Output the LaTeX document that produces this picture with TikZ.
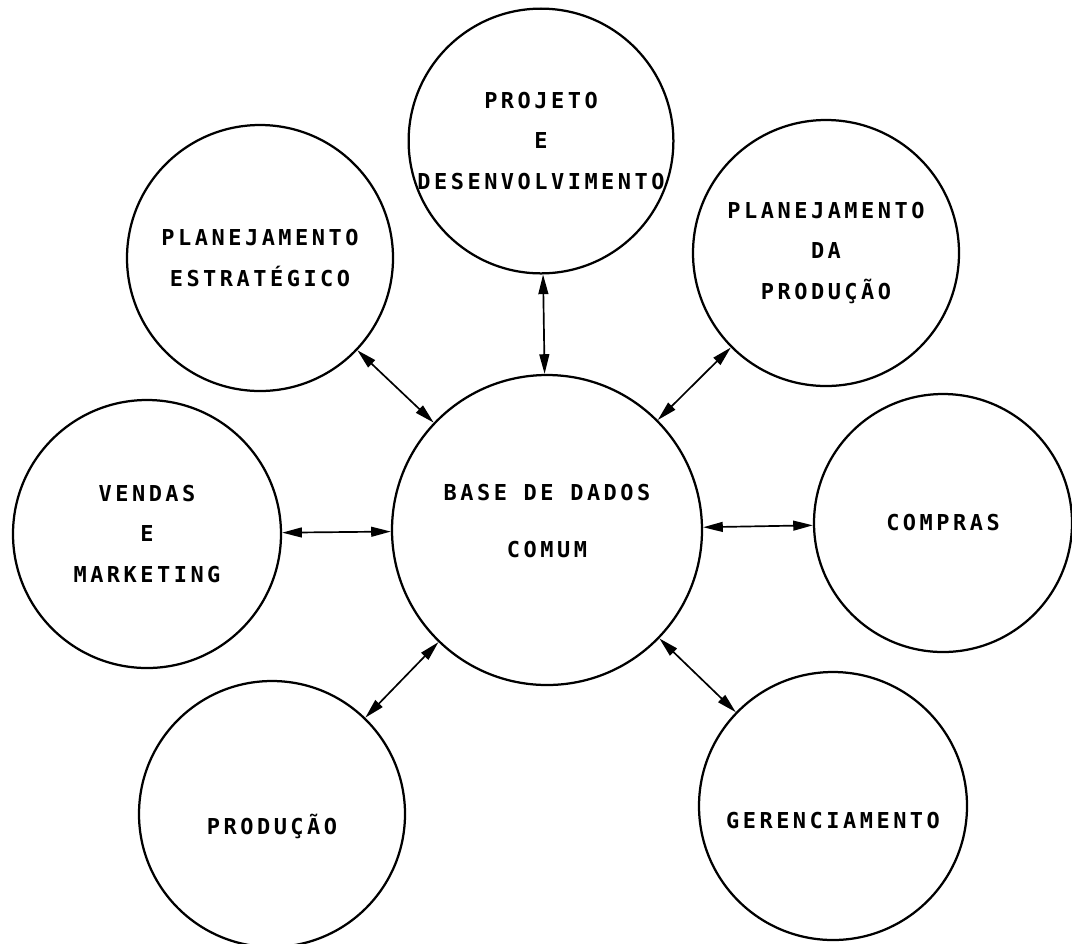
\documentclass[tikz,border=0pt]{standalone}
\usepackage{fontspec}
\usetikzlibrary{arrows.meta}
\newfontfamily\typefont[LetterSpace=16]{DejaVu Sans Mono Bold}
\begin{document}
\begin{tikzpicture}[
  area/.style={draw, circle, line width=1.6pt, inner sep=0pt, align=center,
    font={\typefont\fontsize{15.6pt}{28.5pt}\selectfont}},
  link/.style={{Triangle[length=14pt,width=7pt]}-{Triangle[length=14pt,width=7pt]}, line width=1.2pt}
]
\useasboundingbox (0,0) rectangle (26.8,-23.575);
\node[area, minimum size=7.75cm] (base) at (13.675,-13.25) {BASE DE DADOS\\[12pt]COMUM\\[-16pt]\mbox{}};
\node[area, minimum size=6.5cm] (projeto) at (13.525,-3.525) {PROJETO\\E\\DESENVOLVIMENTO};
\node[area, minimum size=6.65cm] (estrat) at (6.5,-6.45) {PLANEJAMENTO\\ESTRATÉGICO};
\node[area, minimum size=6.65cm] (planprod) at (20.65,-6.325) {PLANEJAMENTO\\DA\\PRODUÇÃO};
\node[area, minimum size=6.7cm] (vendas) at (3.675,-13.35) {VENDAS\\E\\MARKETING};
\node[area, minimum size=6.45cm] (compras) at (23.575,-13.075) {COMPRAS};
\node[area, minimum size=6.7cm] (gerenc) at (20.825,-20.15) {\mbox{}\\[4pt]GERENCIAMENTO};
\node[area, minimum size=6.65cm] (producao) at (6.8,-20.35) {\mbox{}\\[4pt]PRODUÇÃO};
% ligacoes com a base comum
\draw[link] (base) -- (projeto);
\draw[link] (base) -- (estrat);
\draw[link] (base) -- (planprod);
\draw[link] (vendas) -- (base);
\draw[link] (base) -- (compras);
\draw[link] (base) -- (gerenc);
\draw[link] (base) -- (producao);
\end{tikzpicture}
\end{document}
